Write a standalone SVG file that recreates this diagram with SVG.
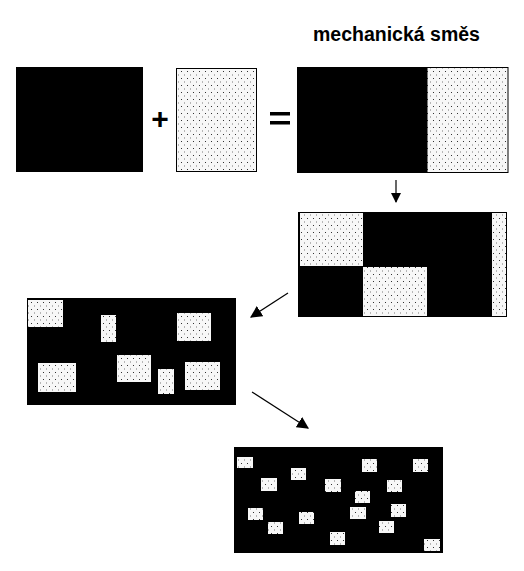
<svg xmlns="http://www.w3.org/2000/svg" width="524" height="571" viewBox="0 0 524 571">
<style>
.blk{fill:#000}
.dot{fill:url(#dots);stroke:#000;stroke-width:1}
.dotn{fill:url(#dots)}
.con{stroke:#000;stroke-width:1.2;fill:none}
.lbl{font-family:"Liberation Sans",Arial,sans-serif;font-weight:bold;fill:#000}
</style>
<defs>
<pattern id="dots" patternUnits="userSpaceOnUse" width="6" height="7">
<rect width="6" height="7" fill="#f7f7f7"/>
<rect x="1" y="1" width="1" height="1" fill="#333"/>
<rect x="4" y="4.5" width="1" height="1" fill="#777"/>
</pattern>
<marker id="ah" viewBox="0 0 10 10" refX="9" refY="5" markerWidth="10" markerHeight="10" markerUnits="userSpaceOnUse" orient="auto">
<path d="M0,0 L10,5 L0,10 z" fill="#000"/>
</marker>
<marker id="ahL" viewBox="0 0 10 10" refX="9" refY="5" markerWidth="12" markerHeight="12" markerUnits="userSpaceOnUse" orient="auto">
<path d="M0,0 L10,5 L0,10 z" fill="#000"/>
</marker>
</defs>
<rect width="524" height="571" fill="#fff"/>
<text class="lbl" x="313" y="41" font-size="19.5">mechanická směs</text>
<g id="component-a"><rect class="blk" x="16" y="67" width="127" height="105"/></g>
<g id="plus"><text class="lbl" x="160" y="129" font-size="30" text-anchor="middle">+</text></g>
<g id="component-b"><rect class="dot" x="176.5" y="68.5" width="80" height="103"/></g>
<g id="equals"><rect class="blk" x="270" y="112" width="20" height="3.5"/><rect class="blk" x="270" y="121" width="20" height="3.5"/></g>
<g id="mixture"><rect class="blk" x="297" y="67" width="130" height="106"/><rect class="dotn" x="427" y="68" width="81" height="104"/><rect x="427" y="67.5" width="81" height="105" fill="none" stroke="#000"/></g>
<g id="stage2">
<rect class="blk" x="298" y="212" width="209" height="105"/>
<rect class="dotn" x="300" y="213" width="63" height="53"/>
<rect class="dotn" x="363" y="267" width="64" height="49"/>
<rect class="dotn" x="492" y="213" width="14" height="103"/>
</g>
<g id="stage3">
<rect class="blk" x="27" y="298" width="209" height="107"/>
<rect class="dotn" x="28" y="300" width="35" height="27"/>
<rect class="dotn" x="101" y="315" width="15" height="27"/>
<rect class="dotn" x="177" y="313" width="34" height="28"/>
<rect class="dotn" x="38" y="363" width="38" height="29"/>
<rect class="dotn" x="117" y="355" width="34" height="27"/>
<rect class="dotn" x="158" y="369" width="16" height="25"/>
<rect class="dotn" x="185" y="362" width="35" height="28"/>
</g>
<g id="stage4">
<rect class="blk" x="234" y="447" width="209" height="106"/>
<rect class="dotn" x="237" y="457" width="16" height="11"/>
<rect class="dotn" x="291" y="468" width="15" height="12"/>
<rect class="dotn" x="261" y="478" width="16" height="13"/>
<rect class="dotn" x="362" y="459" width="15" height="13"/>
<rect class="dotn" x="413" y="459" width="15" height="13"/>
<rect class="dotn" x="325" y="479" width="16" height="13"/>
<rect class="dotn" x="387" y="480" width="15" height="12"/>
<rect class="dotn" x="355" y="491" width="15" height="12"/>
<rect class="dotn" x="248" y="508" width="15" height="12"/>
<rect class="dotn" x="299" y="512" width="15" height="12"/>
<rect class="dotn" x="350" y="507" width="16" height="12"/>
<rect class="dotn" x="391" y="504" width="15" height="13"/>
<rect class="dotn" x="268" y="522" width="15" height="12"/>
<rect class="dotn" x="379" y="521" width="15" height="12"/>
<rect class="dotn" x="330" y="532" width="15" height="13"/>
<rect class="dotn" x="424" y="539" width="16" height="12"/>
</g>
<g id="connectors">
<line class="con" x1="396" y1="180" x2="396" y2="202" marker-end="url(#ah)"/>
<line class="con" x1="288" y1="293" x2="251" y2="317" marker-end="url(#ahL)"/>
<line class="con" x1="252" y1="392" x2="308" y2="428" marker-end="url(#ahL)"/>
</g>
</svg>
